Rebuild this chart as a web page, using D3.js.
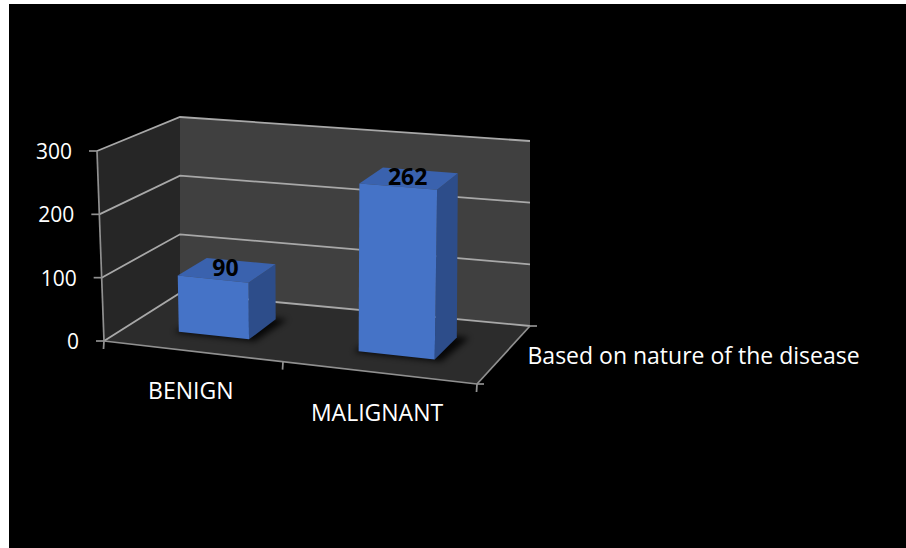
<!DOCTYPE html>
<html>
<head>
<meta charset="utf-8">
<script src="https://cdn.jsdelivr.net/npm/d3@7"></script>
<style>
  html, body { margin: 0; padding: 0; background: #ffffff; }
  svg { display: block; }
  text { font-family: "Open Sans", Lato, sans-serif; }
</style>
</head>
<body>
<svg id="chart" width="906" height="548"></svg>
<script>
// ---- data ----
const categories = ["BENIGN", "MALIGNANT"];
const values = [90, 262];
const valueTicks = [0, 100, 200, 300];
const seriesName = "Based on nature of the disease";

// ---- 3D box corners in screen space: [u (category), v (value), w (depth)] ----
// f = front (w=0), b = back (w=1); l/r = u 0/1; b/t = v 0/1
const box = {
  flb: [104, 341], flt: [97, 151], frb: [477, 384], frt: [483, 183],
  blb: [180, 293], blt: [180, 117], brb: [530, 326], brt: [530, 141]
};
const lerp = (a, b, t) => [a[0] + (b[0] - a[0]) * t, a[1] + (b[1] - a[1]) * t];
// the right end of the box sits nearer the eye, so the category direction is foreshortened
const persp = -0.077;
const warpU = u => (1 + persp) * u / (1 + persp * u);
// trilinear projection of a point in the unit box to the page
function project(u, v, w) {
  const uu = warpU(u);
  const fb = lerp(box.flb, box.frb, uu), ft = lerp(box.flt, box.frt, uu);
  const bb = lerp(box.blb, box.brb, uu), bt = lerp(box.blt, box.brt, uu);
  const f = lerp(fb, ft, v), b = lerp(bb, bt, v);
  return lerp(f, b, w);
}

const yScale = d3.scaleLinear().domain([0, 300]).range([0, 1]);
const xScale = d3.scaleBand().domain(categories).range([0, 1])
  .paddingInner(0.6).paddingOuter(0.3);
const depth = [0.31, 0.7];

const svg = d3.select("#chart");
const line = d3.line();
const poly = pts => line(pts) + "Z";

// background
svg.append("rect").attr("x", 9).attr("y", 4).attr("width", 897).attr("height", 544)
  .attr("fill", "#000000");

const defs = svg.append("defs");
defs.append("filter").attr("id", "shadow").attr("x", "-30%").attr("y", "-30%")
  .attr("width", "160%").attr("height", "160%")
  .append("feGaussianBlur").attr("stdDeviation", 3);

// walls and floor
svg.append("path").attr("d", poly([project(0,0,0), project(0,1,0), project(0,1,1), project(0,0,1)]))
  .attr("fill", "#262626");
svg.append("path").attr("d", poly([project(0,0,1), project(0,1,1), project(1,1,1), project(1,0,1)]))
  .attr("fill", "#404040");
svg.append("path").attr("d", poly([project(0,0,0), project(1,0,0), project(1,0,1), project(0,0,1)]))
  .attr("fill", "#2c2c2c");

// gridlines on the side and back walls
const grid = svg.append("g").attr("stroke", "#a8a8a8").attr("stroke-width", 1.8).attr("fill", "none");
valueTicks.forEach(t => {
  const v = yScale(t);
  grid.append("path").attr("d", line([project(0, v, 0), project(0, v, 1), project(1, v, 1)]));
});

// axes
const axes = svg.append("g").attr("stroke", "#909090").attr("stroke-width", 1.7).attr("fill", "none");
axes.append("path").attr("d", line([project(0, 0, 0), project(0, 1, 0)]));
axes.append("path").attr("d", line([project(0, 0, 0), project(1, 0, 0)]));
axes.append("path").attr("d", line([project(1, 0, 0), project(1, 0, 1)]));
valueTicks.forEach(t => {
  const p = project(0, yScale(t), 0);
  axes.append("path").attr("d", line([[p[0] - 8, p[1]], p]));
});
const step = xScale.step();
d3.range(categories.length + 1).forEach(i => {
  const p = project(i * step, 0, 0);
  axes.append("path").attr("d", line([p, [p[0] - 0.5, p[1] + 8]]));
});
[0, 1].forEach(w => {
  const p = project(1, 0, w);
  axes.append("path").attr("d", line([p, [p[0] + 7, p[1]]]));
});

// value axis labels
svg.append("g").selectAll("text").data(valueTicks).join("text")
  .attr("x", d => project(0, yScale(d), 0)[0] - 25)
  .attr("y", d => project(0, yScale(d), 0)[1])
  .attr("text-anchor", "end").attr("dominant-baseline", "central")
  .attr("fill", "#ffffff").attr("font-size", 21)
  .text(d => d);

// category labels
svg.append("g").selectAll("text").data(categories).join("text")
  .attr("x", d => project(xScale(d) + xScale.bandwidth() / 2, 0, 0)[0] - 1)
  .attr("y", d => project(xScale(d) + xScale.bandwidth() / 2, 0, 0)[1] + 39)
  .attr("text-anchor", "middle").attr("dominant-baseline", "central")
  .attr("fill", "#ffffff").attr("font-size", 23)
  .text(d => d);

// series (depth) axis label
const sp = project(1, 0, 0.5);
svg.append("text").attr("x", sp[0] + 24).attr("y", sp[1])
  .attr("dominant-baseline", "central").attr("fill", "#ffffff").attr("font-size", 23)
  .text(seriesName);

// bars
const bars = svg.append("g");
categories.forEach((c, i) => {
  const u0 = xScale(c), u1 = u0 + xScale.bandwidth();
  const [w0, w1] = depth;
  const v = yScale(values[i]);
  const g = bars.append("g");
  // soft shadow on the floor
  g.append("path")
    .attr("d", poly([project(u0 - 0.01, 0, w0 - 0.02), project(u1 + 0.02, 0, w0 - 0.02),
                     project(u1 + 0.03, 0, w1 + 0.02), project(u0, 0, w1 + 0.02)]))
    .attr("fill", "#000000").attr("opacity", 0.85).attr("filter", "url(#shadow)");
  // right side
  g.append("path").attr("d", poly([project(u1, 0, w0), project(u1, v, w0), project(u1, v, w1), project(u1, 0, w1)]))
    .attr("fill", "#2d4d8a");
  // top
  g.append("path").attr("d", poly([project(u0, v, w0), project(u1, v, w0), project(u1, v, w1), project(u0, v, w1)]))
    .attr("fill", "#3a62ae");
  // front
  g.append("path").attr("d", poly([project(u0, 0, w0), project(u1, 0, w0), project(u1, v, w0), project(u0, v, w0)]))
    .attr("fill", "#4573c7");
  // value label on the top face
  const tp = project((u0 + u1) / 2, v, 0.5);
  g.append("text").attr("x", tp[0] - 1).attr("y", tp[1] - 3)
    .attr("text-anchor", "middle").attr("dominant-baseline", "central")
    .attr("font-weight", "bold").attr("font-size", 23).attr("fill", "#000000")
    .text(values[i]);
});
</script>
</body>
</html>
